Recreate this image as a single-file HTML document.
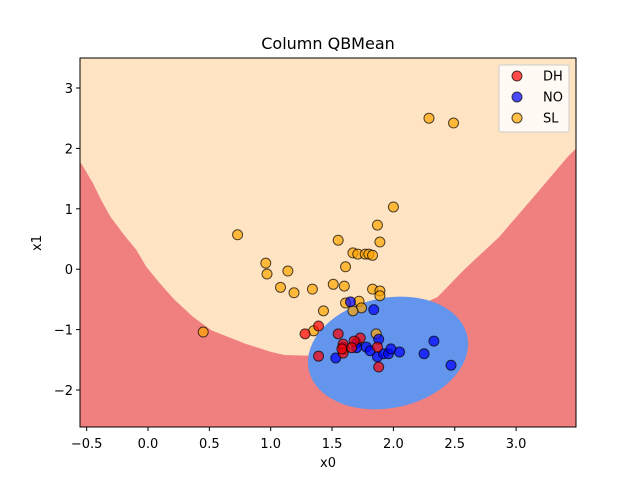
<!DOCTYPE html>
<html><head><meta charset="utf-8"><style>
body{margin:0;background:#fff;font-family:"DejaVu Sans",sans-serif}
svg text{font-family:"DejaVu Sans","Liberation Sans",sans-serif}
</style></head><body>
<svg id="chart" width="640" height="480" viewBox="0 0 640 480">
<defs><clipPath id="plotclip"><rect x="80" y="58" width="496" height="369"/></clipPath></defs>
<g clip-path="url(#plotclip)">
<rect x="80" y="58" width="496" height="369" fill="#ffe4c4"/>
<polygon id="redRegion" fill="#f08080"/>
<ellipse cx="388" cy="353" rx="81" ry="55" transform="rotate(-12 388 353)" fill="#6495ed"/>
</g>
<g id="points"></g>
<rect x="80" y="58" width="496" height="369" fill="none" stroke="#000" stroke-width="1"/>
<g id="axes"></g>
<text x="328" y="49" text-anchor="middle" font-size="16">Column QBMean</text>
<text x="328" y="467" text-anchor="middle" font-size="13">x0</text>
<text x="41" y="243" text-anchor="middle" font-size="13" transform="rotate(-90 41 243)">x1</text>
<g>
<rect x="499" y="65" width="70" height="67" rx="2" fill="#fff" fill-opacity="0.8" stroke="#ccc"/>
<g><circle cx="517" cy="76" r="5" fill="#ff0000" fill-opacity="0.7" stroke="#000" stroke-opacity="0.7"/><text x="543" y="80.5" font-size="13">DH</text></g>
<g><circle cx="517" cy="97" r="5" fill="#0000ff" fill-opacity="0.7" stroke="#000" stroke-opacity="0.7"/><text x="543" y="101.5" font-size="13">NO</text></g>
<g><circle cx="517" cy="118" r="5" fill="#ffa500" fill-opacity="0.7" stroke="#000" stroke-opacity="0.7"/><text x="543" y="122.5" font-size="13">SL</text></g>
</g>
</svg>
<script>
const xTicks=[-0.5,0.0,0.5,1.0,1.5,2.0,2.5,3.0];
const xTickLabels=["−0.5","0.0","0.5","1.0","1.5","2.0","2.5","3.0"];
const yTicks=[-2,-1,0,1,2,3];
const yTickLabels=["−2","−1","0","1","2","3"];
const boundaryX=[-0.56,-0.544,-0.50,-0.448,-0.38,-0.307,-0.20,-0.095,-0.014,0.095,0.218,0.367,0.516,0.788,1.005,1.114,1.30,2.36,2.58,2.86,3.14,3.42,3.50];
const boundaryY=[1.78,1.75,1.60,1.42,1.14,0.87,0.58,0.32,0.04,-0.23,-0.51,-0.79,-1.01,-1.23,-1.37,-1.42,-1.43,-0.46,0.00,0.53,1.19,1.86,2.02];
const dhX=[1.39,1.28,1.55,1.73,1.68,1.59,1.66,1.87,1.59,1.39,1.88,1.58];
const dhY=[-0.94,-1.07,-1.07,-1.14,-1.19,-1.24,-1.30,-1.29,-1.39,-1.44,-1.62,-1.32];
const noX=[1.65,1.84,1.88,1.70,1.70,1.78,1.81,1.87,1.92,1.96,1.98,2.05,2.25,2.33,2.47,1.53,1.59];
const noY=[-0.54,-0.67,-1.16,-1.22,-1.30,-1.29,-1.35,-1.45,-1.40,-1.40,-1.32,-1.37,-1.40,-1.19,-1.59,-1.47,-1.29];
const slX=[0.73,1.55,2.00,1.87,1.89,1.67,1.71,1.77,1.80,1.83,0.96,0.97,1.14,1.61,1.08,1.19,1.34,1.51,1.60,1.83,1.89,1.89,1.61,1.72,1.74,1.67,1.43,1.35,1.86,1.60,0.45,2.29,2.49];
const slY=[0.57,0.48,1.03,0.73,0.45,0.27,0.25,0.25,0.25,0.23,0.10,-0.08,-0.03,0.04,-0.30,-0.39,-0.33,-0.25,-0.28,-0.33,-0.36,-0.44,-0.56,-0.53,-0.64,-0.69,-0.69,-1.02,-1.07,-1.32,-1.04,2.50,2.42];
const NS='http://www.w3.org/2000/svg';
function sx(v){return 148+v*122.7;}
function sy(v){return 269.2-v*60.4;}
let pts=boundaryX.map((x,i)=>sx(x)+','+sy(boundaryY[i]));
pts.push('590,440','70,440','70,'+sy(boundaryY[0]));
document.getElementById('redRegion').setAttribute('points',pts.join(' '));
const pg=document.getElementById('points');
function drawSeries(xs,ys,color,name){
  xs.forEach((x,i)=>{
    const c=document.createElementNS(NS,'circle');
    c.setAttribute('cx',sx(x));c.setAttribute('cy',sy(ys[i]));c.setAttribute('r',5);
    c.setAttribute('fill',color);c.setAttribute('fill-opacity','0.7');
    c.setAttribute('stroke','#000');c.setAttribute('stroke-opacity','0.7');
    
    
    pg.appendChild(c);
  });
}
drawSeries(slX,slY,'#ffa500','point-sl');
drawSeries(noX,noY,'#0000ff','point-no');
drawSeries(dhX,dhY,'#ff0000','point-dh');
const ax=document.getElementById('axes');
xTicks.forEach((t,i)=>{
  const X=sx(t);
  const l=document.createElementNS(NS,'line');
  l.setAttribute('x1',X);l.setAttribute('x2',X);l.setAttribute('y1',427);l.setAttribute('y2',431);l.setAttribute('stroke','#000');
  
  
  ax.appendChild(l);
  const tx=document.createElementNS(NS,'text');
  tx.setAttribute('x',X);tx.setAttribute('y',448);tx.setAttribute('text-anchor','middle');tx.setAttribute('font-size','13');
  tx.textContent=xTickLabels[i];
  
  
  ax.appendChild(tx);
});
yTicks.forEach((t,i)=>{
  const Y=sy(t);
  const l=document.createElementNS(NS,'line');
  l.setAttribute('x1',76);l.setAttribute('x2',80);l.setAttribute('y1',Y);l.setAttribute('y2',Y);l.setAttribute('stroke','#000');
  
  
  ax.appendChild(l);
  const tx=document.createElementNS(NS,'text');
  tx.setAttribute('x',73);tx.setAttribute('y',Y+5);tx.setAttribute('text-anchor','end');tx.setAttribute('font-size','13');
  tx.textContent=yTickLabels[i];
  
  
  ax.appendChild(tx);
});
</script>
</body></html>
